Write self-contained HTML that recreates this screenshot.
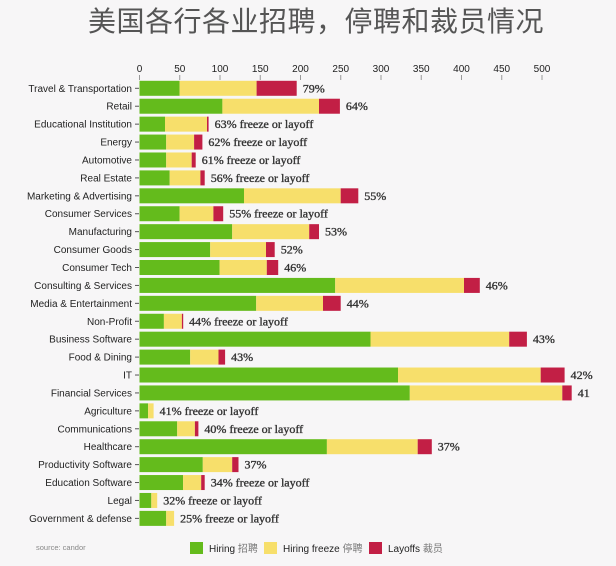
<!DOCTYPE html>
<html><head><meta charset="utf-8"><style>
html,body{margin:0;padding:0;background:#f7f6f7;}
svg{display:block;}
.t{font-family:"Liberation Sans",sans-serif;font-size:10px;fill:#222;}
.v{font-family:"Liberation Serif",serif;font-size:12px;fill:#333;stroke:#333;stroke-width:0.35;}
</style></head><body>
<svg width="616" height="566" xmlns="http://www.w3.org/2000/svg">
<rect width="616" height="566" fill="#f7f6f7"/>
<text x="316" y="31" text-anchor="middle" font-family="'Noto Sans CJK SC',sans-serif" font-size="28" fill="#555" letter-spacing="0.5">美国各行各业招聘，停聘和裁员情况</text>
<g id="ax" class="t" text-anchor="middle"></g>
<g id="bars"></g>
<text x="36" y="550" font-family="'Liberation Sans',sans-serif" font-size="7.5" fill="#888">source: candor</text>
<rect x="190" y="542" width="13" height="12" fill="#64bb1c"/>
<text x="209" y="552" class="t" style="font-family:'Liberation Sans','Noto Sans CJK SC',sans-serif">Hiring <tspan fill="#777">招聘</tspan></text>
<rect x="264" y="542" width="13" height="12" fill="#f7df6b"/>
<text x="283" y="552" class="t" style="font-family:'Liberation Sans','Noto Sans CJK SC',sans-serif">Hiring freeze <tspan fill="#777">停聘</tspan></text>
<rect x="369" y="542" width="13" height="12" fill="#c21f45"/>
<text x="388" y="552" class="t" style="font-family:'Liberation Sans','Noto Sans CJK SC',sans-serif">Layoffs <tspan fill="#777">裁员</tspan></text>
</svg>
<script>
var ns="http://www.w3.org/2000/svg";
function el(p,n,a,t){var e=document.createElementNS(ns,n);for(var k in a)e.setAttribute(k,a[k]);if(t!=null)e.textContent=t;p.appendChild(e);return e;}
var ax=document.getElementById("ax");
for(var i=0;i<=10;i++){var x=139.5+i*40.25;el(ax,"text",{x:x,y:72},String(i*50));el(ax,"line",{x1:x,x2:x,y1:75,y2:80,stroke:"#999","stroke-width":1});}
var d=[
["Travel & Transportation",179.6,256.6,296.7,"79%"],
["Retail",222.4,319,339.9,"64%"],
["Educational Institution",165,207,208.6,"63% freeze or layoff"],
["Energy",166.2,194.1,202.4,"62% freeze or layoff"],
["Automotive",166.2,191.7,195.7,"61% freeze or layoff"],
["Real Estate",169.7,200.4,204.7,"56% freeze or layoff"],
["Marketing & Advertising",244,340.7,358.3,"55%"],
["Consumer Services",179.6,213.4,223.2,"55% freeze or layoff"],
["Manufacturing",232.2,309.2,319,"53%"],
["Consumer Goods",210.2,266,274.7,"52%"],
["Consumer Tech",219.6,266.8,278.2,"46%"],
["Consulting & Services",335.2,464,479.8,"46%"],
["Media & Entertainment",256.2,323,340.7,"44%"],
["Non-Profit",163.9,181.9,183.1,"44% freeze or layoff"],
["Business Software",370.5,509.2,526.9,"43%"],
["Food & Dining",190.2,218.5,225.1,"43%"],
["IT",398,540.7,564.6,"42%"],
["Financial Services",409.8,562.3,571.7,"41"],
["Agriculture",148.1,153.6,153.6,"41% freeze or layoff"],
["Communications",177.2,194.9,198.4,"40% freeze or layoff"],
["Healthcare",326.9,417.7,431.8,"37%"],
["Productivity Software",202.8,232.2,238.5,"37%"],
["Education Software",183.1,201.2,204.7,"34% freeze or layoff"],
["Legal",151.3,157.2,157.2,"32% freeze or layoff"],
["Government & defense",166.2,174.1,174.1,"25% freeze or layoff"]];
var g=document.getElementById("bars");
d.forEach(function(r,i){var cy=88.3+i*17.92,y=cy-7.5,x0=139.5;
el(g,"text",{x:132,y:cy+3.5,"class":"t","text-anchor":"end"},r[0]);
el(g,"line",{x1:135,x2:139,y1:cy,y2:cy,stroke:"#555"});
el(g,"rect",{x:x0,y:y,width:r[1]-x0,height:15,fill:"#64bb1c"});
if(r[2]>r[1])el(g,"rect",{x:r[1],y:y,width:r[2]-r[1],height:15,fill:"#f7df6b"});
if(r[3]>r[2])el(g,"rect",{x:r[2],y:y,width:Math.max(r[3]-r[2],1.3),height:15,fill:"#c21f45"});
el(g,"text",{x:r[3]+6,y:cy+4,"class":"v"},r[4]);});
</script>
</body></html>
